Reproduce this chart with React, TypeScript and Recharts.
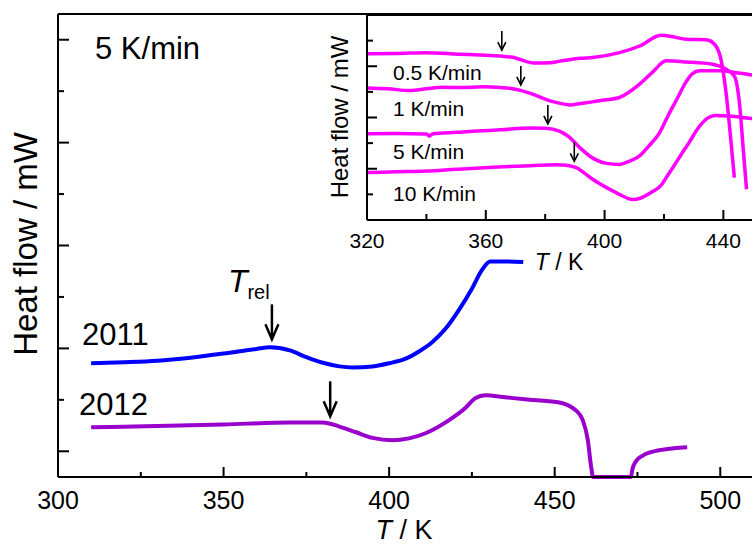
import { CartesianGrid, Line, LineChart, ReferenceDot, ReferenceLine, XAxis, YAxis } from 'recharts';

const FONT = '"Liberation Sans", Arial, Helvetica, sans-serif';

// main chart, 5 K/min
const temp2011 = [310, 320, 330, 340, 350, 360, 364, 370, 375, 380, 385, 389, 395, 400, 405, 409, 413, 417, 421, 425, 428, 430.5, 435, 440.5];
const heat2011 = [0.855, 0.865, 0.88, 0.91, 0.95, 0.995, 1.01, 0.98, 0.915, 0.86, 0.825, 0.815, 0.825, 0.855, 0.9, 0.97, 1.06, 1.19, 1.37, 1.58, 1.76, 1.845, 1.845, 1.84];

const temp2012 = [310, 330, 350, 370, 380, 385, 390, 395, 401, 406, 411, 418, 423, 426, 429, 435, 441, 451, 455.5, 457.5, 458.5, 460, 461, 461.6, 473, 473.5, 474.5, 476.7, 481.5, 486, 490];
const heat2012 = [0.233, 0.245, 0.26, 0.28, 0.28, 0.24, 0.185, 0.13, 0.107, 0.125, 0.175, 0.3, 0.42, 0.515, 0.544, 0.525, 0.505, 0.476, 0.42, 0.36, 0.3, 0.11, -0.15, -0.25, -0.25, -0.17, -0.1, -0.04, 0.01, 0.03, 0.04];

const mainXTicks = [300, 325, 350, 375, 400, 425, 450, 475, 500];
const mainYTicks = [0, 0.5, 1, 1.5, 2, 2.5, 3, 3.5, 4];
const relArrowT = [364.6, 382.2];
const relArrowV = [1.088, 0.34];

// inset, several heating rates
const temp05 = [320, 330, 340, 351, 358, 365, 369, 376, 381.7, 385, 392, 396, 405, 411.8, 419, 423, 427.5, 434.2, 437, 439.2, 440.9, 442.6, 443.7];
const heat05 = [5.49, 5.5, 5.53, 5.47, 5.44, 5.4, 5.35, 5.13, 5.14, 5.2, 5.31, 5.34, 5.53, 5.79, 6.21, 6.15, 6.05, 6.03, 5.86, 5.27, 3.97, 2.02, 0.65];

const temp1 = [320, 327, 334.5, 340, 345.5, 352, 359, 365, 368, 372, 376, 380.6, 384, 388.4, 392, 395.2, 400, 405, 411.8, 416, 420.7, 427.5, 436.4, 440.9, 443.7, 445.4, 446.7, 447.8];
const heat1 = [4.15, 4.12, 4.05, 4.12, 4.18, 4.17, 4.2, 4.17, 4.14, 4.05, 3.9, 3.69, 3.58, 3.49, 3.55, 3.6, 3.68, 3.78, 4.3, 4.75, 5.21, 5.17, 5.08, 4.88, 4.62, 3.58, 1.76, 0.2];

const temp5 = [320, 330, 340, 341, 342, 350, 357, 365, 374.9, 380, 385, 387.8, 391.8, 395.2, 400.7, 405, 408, 411.8, 415, 418.5, 421.5, 424.5, 427.5, 429.5, 432, 438.7, 445, 452];
const heat5 = [2.37, 2.38, 2.36, 2.28, 2.36, 2.42, 2.47, 2.52, 2.59, 2.58, 2.46, 2.26, 1.81, 1.48, 1.21, 1.17, 1.28, 1.5, 1.9, 2.4, 3.1, 3.75, 4.4, 4.7, 4.82, 4.82, 4.74, 4.62];

const temp10 = [320, 330, 340, 350, 362.4, 375, 383.9, 387, 390.7, 393, 396, 401.7, 405, 409.4, 412, 416, 419, 421, 423, 425.5, 428.6, 431, 433, 435, 437.5, 442, 449.4, 452];
const heat10 = [0.85, 0.88, 0.91, 0.98, 1.06, 1.12, 1.16, 1.14, 1.03, 0.85, 0.59, 0.2, 0.0, -0.2, -0.15, 0.1, 0.35, 0.7, 1.05, 1.5, 2.05, 2.5, 2.8, 3.0, 3.08, 3.06, 2.96, 2.94];

const insetXTicks = [320, 340, 360, 380, 400, 420, 440];
const insetYTicks = [0, 1, 2, 3, 4, 5, 6];
const rateLabels = ['0.5 K/min', '1 K/min', '5 K/min', '10 K/min'];
const rateArrowT = [365.4, 371.8, 380.9, 389.8];
const rateArrowV = [5.63, 4.27, 2.75, 1.29];

const toRows = (ts: number[], vs: number[]) => ts.map((t, i) => ({ t, v: vs[i] }));

const mainSeries = [
  { name: '2011', data: toRows(temp2011, heat2011), color: '#0000ff' },
  { name: '2012', data: toRows(temp2012, heat2012), color: '#9900cc' },
];
const insetSeries = [
  { name: rateLabels[0], data: toRows(temp05, heat05) },
  { name: rateLabels[1], data: toRows(temp1, heat1) },
  { name: rateLabels[2], data: toRows(temp5, heat5) },
  { name: rateLabels[3], data: toRows(temp10, heat10) },
];

function MainXTick({ x, y, payload }: any) {
  const major = payload.value % 50 === 0;
  return (
    <g>
      <line x1={x} x2={x} y1={y} y2={y - (major ? 10 : 5)} stroke="#000" strokeWidth={2} />
      {major && (
        <text x={x} y={y + 32} textAnchor="middle" fontSize={25} fontFamily={FONT} fill="#000">
          {payload.value}
        </text>
      )}
    </g>
  );
}

function MainYTick({ x, y, payload }: any) {
  const major = Number.isInteger(payload.value);
  return <line x1={x} x2={x + (major ? 11 : 6)} y1={y} y2={y} stroke="#000" strokeWidth={2} />;
}

function InsetXTick({ x, y, payload }: any) {
  const major = (payload.value - 320) % 40 === 0;
  return (
    <g>
      <line x1={x} x2={x} y1={y} y2={y - (major ? 10 : 6)} stroke="#000" strokeWidth={2} />
      {major && (
        <text x={x} y={y + 28} textAnchor="middle" fontSize={21} fontFamily={FONT} fill="#000">
          {payload.value}
        </text>
      )}
    </g>
  );
}

function InsetYTick({ x, y, payload }: any) {
  const major = payload.value % 2 === 1;
  return <line x1={x} x2={x + (major ? 10 : 6)} y1={y} y2={y} stroke="#000" strokeWidth={2} />;
}

function DownArrow({ cx, cy, len, head, half, width, label }: any) {
  return (
    <g>
      <line x1={cx} x2={cx} y1={cy - len} y2={cy - 1} stroke="#000" strokeWidth={width} />
      <polyline
        points={`${cx - half},${cy - head} ${cx},${cy} ${cx + half},${cy - head}`}
        fill="none"
        stroke="#000"
        strokeWidth={width}
      />
      {label && (
        <text x={cx - 44} y={cy - 47} fontFamily={FONT} fill="#000">
          <tspan fontSize={32} fontStyle="italic">T</tspan>
          <tspan fontSize={20} dy={7}>rel</tspan>
        </text>
      )}
    </g>
  );
}

export default function App() {
  return (
    <div style={{ position: 'absolute', left: 0, top: 0, width: 752, height: 548, overflow: 'hidden', background: '#fff' }}>
      <div style={{ position: 'absolute', left: 0, top: 0 }}>
        <LineChart width={800} height={548} margin={{ top: 14, right: 40, bottom: 70, left: 57 }}>
          <XAxis
            type="number"
            dataKey="t"
            domain={[300, 512]}
            ticks={mainXTicks}
            interval={0}
            height={1}
            tickSize={0}
            tickMargin={0}
            tickLine={false}
            tick={MainXTick}
            axisLine={{ stroke: '#000', strokeWidth: 2 }}
            allowDuplicatedCategory={false}
          />
          <YAxis
            type="number"
            dataKey="v"
            domain={[-0.25, 4.25]}
            ticks={mainYTicks}
            interval={0}
            width={1}
            tickSize={0}
            tickMargin={0}
            tickLine={false}
            tick={MainYTick}
            axisLine={{ stroke: '#000', strokeWidth: 2 }}
          />
          <ReferenceLine y={4.25} stroke="#000" strokeWidth={2} />
          {mainSeries.map((s) => (
            <Line
              key={s.name}
              data={s.data}
              dataKey="v"
              type="monotone"
              stroke={s.color}
              strokeWidth={4}
              dot={false}
              isAnimationActive={false}
            />
          ))}
          {relArrowT.map((t, i) => (
            <ReferenceDot
              key={t}
              x={t}
              y={relArrowV[i]}
              r={0}
              shape={(p: any) => (
                <DownArrow cx={p.cx} cy={p.cy} len={35} head={15} half={6.5} width={2.5} label={i === 0} />
              )}
            />
          ))}
        </LineChart>
      </div>

      <div style={{ position: 'absolute', left: 0, top: 0 }}>
        <LineChart width={800} height={300} margin={{ top: 15, right: 41, bottom: 79, left: 366 }}>
          <CartesianGrid horizontal={false} vertical={false} fill="#fff" fillOpacity={1} />
          <XAxis
            type="number"
            dataKey="t"
            domain={[320, 452]}
            ticks={insetXTicks}
            interval={0}
            height={1}
            tickSize={0}
            tickMargin={0}
            tickLine={false}
            tick={InsetXTick}
            axisLine={{ stroke: '#000', strokeWidth: 2 }}
            allowDuplicatedCategory={false}
          />
          <YAxis
            type="number"
            dataKey="v"
            domain={[-1, 7]}
            ticks={insetYTicks}
            interval={0}
            width={1}
            tickSize={0}
            tickMargin={0}
            tickLine={false}
            tick={InsetYTick}
            axisLine={{ stroke: '#000', strokeWidth: 2 }}
          />
          <ReferenceLine y={7} stroke="#000" strokeWidth={2} />
          {insetSeries.map((s) => (
            <Line
              key={s.name}
              data={s.data}
              dataKey="v"
              type="monotone"
              stroke="#ff00ff"
              strokeWidth={3.5}
              dot={false}
              isAnimationActive={false}
            />
          ))}
          {rateArrowT.map((t, i) => (
            <ReferenceDot
              key={t}
              x={t}
              y={rateArrowV[i]}
              r={0}
              shape={(p: any) => <DownArrow cx={p.cx} cy={p.cy} len={19} head={8} half={4} width={1.6} />}
            />
          ))}
        </LineChart>
      </div>

      <svg width={752} height={548} style={{ position: 'absolute', left: 0, top: 0, pointerEvents: 'none' }}>
        <g fontFamily={FONT} fill="#000">
          <text transform="translate(37,244) rotate(-90)" textAnchor="middle" fontSize={33}>
            Heat flow / mW
          </text>
          <text x={95} y={59} fontSize={31}>5 K/min</text>
          <text x={82} y={345} fontSize={31}>{mainSeries[0].name}</text>
          <text x={79} y={415} fontSize={31}>{mainSeries[1].name}</text>
          <text x={404} y={539} textAnchor="middle" fontSize={27}>
            <tspan fontStyle="italic">T</tspan> / K
          </text>

          <text transform="translate(348,117) rotate(-90)" textAnchor="middle" fontSize={24}>
            Heat flow / mW
          </text>
          <text x={559} y={270} textAnchor="middle" fontSize={23}>
            <tspan fontStyle="italic">T</tspan> / K
          </text>
          <text x={393} y={80} fontSize={21}>{rateLabels[0]}</text>
          <text x={393} y={116} fontSize={21}>{rateLabels[1]}</text>
          <text x={393} y={159} fontSize={21}>{rateLabels[2]}</text>
          <text x={393} y={201} fontSize={21}>{rateLabels[3]}</text>
        </g>
      </svg>
    </div>
  );
}
